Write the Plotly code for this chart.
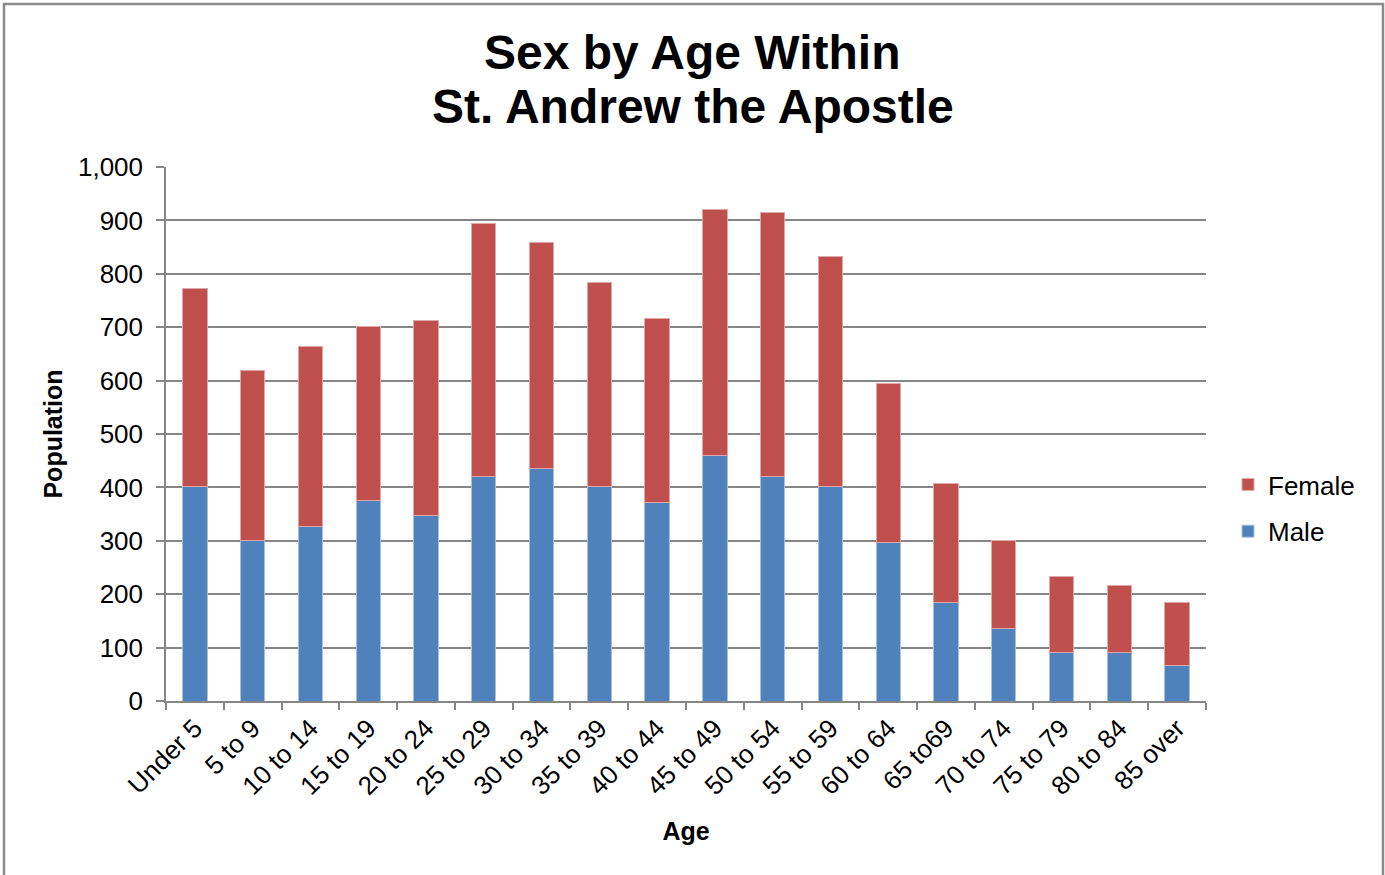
import plotly.graph_objects as go

categories = ["Under 5", "5 to 9", "10 to 14", "15 to 19", "20 to 24", "25 to 29",
              "30 to 34", "35 to 39", "40 to 44", "45 to 49", "50 to 54", "55 to 59",
              "60 to 64", "65 to69", "70 to 74", "75 to 79", "80 to 84", "85 over"]
male = [401, 301, 326, 376, 348, 421, 436, 401, 371, 459, 421, 401, 296, 184, 135, 90, 90, 67]
total = [773, 618, 663, 702, 712, 895, 858, 783, 717, 921, 914, 833, 595, 408, 300, 234, 217, 185]
female = [t - m for t, m in zip(total, male)]
title_lines = ["Sex by Age Within", "St. Andrew the Apostle"]

FONT = "Liberation Sans, Arial, sans-serif"
GRID = "#868686"
L, R, T, B = 166, 179, 167, 174
PW, PH = 1385 - L - R, 875 - T - B


def px_x(p):
    return (p - L) / PW


def px_y(p):
    return (875 - B - p) / PH


fig = go.Figure()
fig.add_trace(go.Bar(x=categories, y=male, name="Male", legendgroup="m", legendrank=2,
                     marker=dict(color="#4F81BD", line=dict(color="#A9C1E0", width=1))))
fig.add_trace(go.Bar(x=categories, y=female, name="Female", legendgroup="f", legendrank=1,
                     marker=dict(color="#C0504D", line=dict(color="#E0A8A6", width=1))))

fig.update_layout(
    width=1385, height=875,
    barmode="stack", bargap=0.58,
    paper_bgcolor="white", plot_bgcolor="white",
    margin=dict(l=L, r=R, t=T, b=B),
    font=dict(family=FONT, size=26, color="black"),
    legend=dict(x=px_x(1228), y=px_y(508), xanchor="left", yanchor="middle",
                traceorder="grouped", font=dict(size=26),
                itemwidth=30, tracegroupgap=10, bgcolor="rgba(0,0,0,0)"),
    showlegend=True,
)
for txt, yp in zip(title_lines, [53, 107]):
    fig.add_annotation(text="<b>%s</b>" % txt, xref="paper", yref="paper",
                       x=px_x(692.5), y=px_y(yp), xanchor="center", yanchor="middle",
                       showarrow=False, font=dict(family=FONT, size=48, color="black"))

fig.update_xaxes(
    type="category", tickangle=-45, tickson="boundaries",
    ticks="outside", ticklen=7, tickcolor=GRID, tickwidth=1.5,
    showline=True, linecolor=GRID, linewidth=1.5, showgrid=False,
    tickfont=dict(size=26),
    title=dict(text="<b>Age</b>", font=dict(size=25), standoff=23),
)
fig.update_yaxes(
    range=[0, 1000], dtick=100, tickformat=",d",
    ticks="outside", ticklen=8, tickcolor=GRID, tickwidth=1.5,
    ticklabelstandoff=8,
    showline=True, linecolor=GRID, linewidth=1.5,
    showgrid=True, gridcolor=GRID, gridwidth=1.5, zeroline=False,
    tickfont=dict(size=26),
    title=dict(text="<b>Population</b>", font=dict(size=25), standoff=8),
)
fig.add_shape(type="rect", xref="paper", yref="paper",
              x0=px_x(4), x1=px_x(1383), y0=px_y(885), y1=px_y(4),
              line=dict(color="#8C8C8C", width=2.5), fillcolor="rgba(0,0,0,0)", layer="below")

fig.write_html("out.html", config={"displayModeBar": False},
               post_script="document.body.style.margin='0';")
